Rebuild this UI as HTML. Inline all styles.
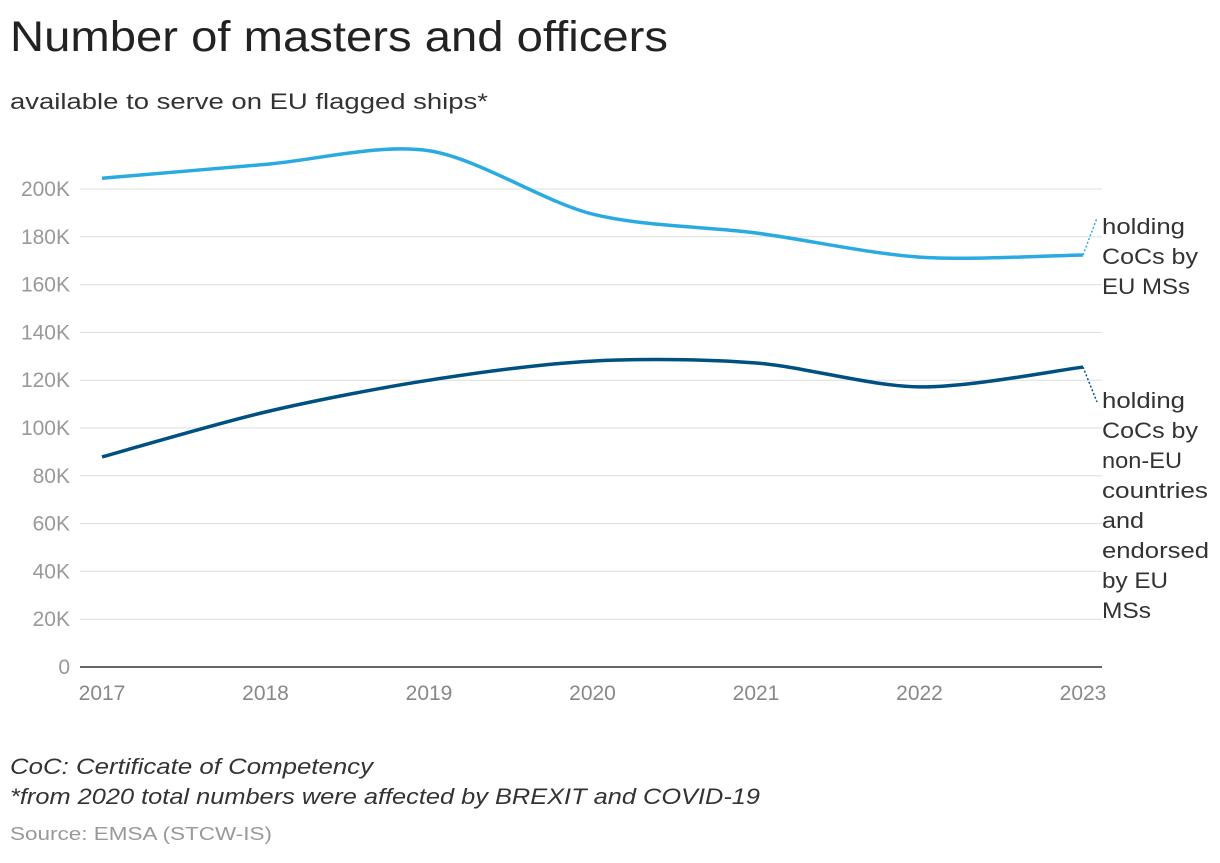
<!DOCTYPE html>
<html><head><meta charset="utf-8"><style>
body{margin:0;background:#fff;width:1220px;height:858px;overflow:hidden;font-family:"Liberation Sans",sans-serif}
</style></head><body>
<svg width="1220" height="858">
<text x="10" y="51" font-size="43" fill="#222" textLength="658" lengthAdjust="spacingAndGlyphs">Number of masters and officers</text>
<text x="10" y="109" font-size="22" fill="#333" textLength="478" lengthAdjust="spacingAndGlyphs">available to serve on EU flagged ships*</text>
<g id="grid"></g><g id="lines"></g>
<g font-size="22" fill="#333">
<text x="1102" y="234" textLength="83" lengthAdjust="spacingAndGlyphs">holding</text>
<text x="1102" y="264" textLength="96" lengthAdjust="spacingAndGlyphs">CoCs by</text>
<text x="1102" y="294" textLength="88" lengthAdjust="spacingAndGlyphs">EU MSs</text>
</g>
<g font-size="22" fill="#333">
<text x="1102" y="408" textLength="83" lengthAdjust="spacingAndGlyphs">holding</text>
<text x="1102" y="438" textLength="96" lengthAdjust="spacingAndGlyphs">CoCs by</text>
<text x="1102" y="468" textLength="80" lengthAdjust="spacingAndGlyphs">non-EU</text>
<text x="1102" y="498" textLength="106" lengthAdjust="spacingAndGlyphs">countries</text>
<text x="1102" y="528" textLength="42" lengthAdjust="spacingAndGlyphs">and</text>
<text x="1102" y="558" textLength="107" lengthAdjust="spacingAndGlyphs">endorsed</text>
<text x="1102" y="588" textLength="66" lengthAdjust="spacingAndGlyphs">by EU</text>
<text x="1102" y="618" textLength="49" lengthAdjust="spacingAndGlyphs">MSs</text>
</g>
<text x="10" y="774" font-size="22" font-style="italic" fill="#333" textLength="363" lengthAdjust="spacingAndGlyphs">CoC: Certificate of Competency</text>
<text x="10" y="804" font-size="22" font-style="italic" fill="#333" textLength="750" lengthAdjust="spacingAndGlyphs">*from 2020 total numbers were affected by BREXIT and COVID-19</text>
<text x="10" y="840" font-size="18" fill="#999" textLength="262" lengthAdjust="spacingAndGlyphs">Source: EMSA (STCW-IS)</text>
</svg>
<script>
const years=[2017,2018,2019,2020,2021,2022,2023];
const euValues=[204.5,210.3,216.0,189.5,181.6,171.5,172.4];
const nonEuValues=[87.9,106.7,120,128,127.2,117.2,125.5];
const yTicks=[0,20,40,60,80,100,120,140,160,180,200];
const NS="http://www.w3.org/2000/svg";
const xs=i=>102+i*(1083-102)/(years.length-1);
const ys=v=>667-v*(667-189)/200;
function mk(t,a,p){const e=document.createElementNS(NS,t);for(const k in a)e.setAttribute(k,a[k]);p.appendChild(e);return e;}
const g=document.getElementById('grid'),L=document.getElementById('lines');
yTicks.forEach(v=>{
 const l=mk('line',{x1:80,x2:1102,y1:ys(v),y2:ys(v),stroke:v===0?'#333':'#ddd','stroke-width':v===0?1.5:1},g);
 
 
 const t=mk('text',{x:70,y:ys(v)+7,'text-anchor':'end','font-size':21,fill:'#999'},g);
 t.textContent=v===0?'0':v+'K';
 
 
});
years.forEach((y,i)=>{
 const t=mk('text',{x:xs(i),y:700,'text-anchor':'middle','font-size':21,fill:'#888'},g);
 t.textContent=y;
 
 
});
function path(vals){
 const p=vals.map((v,i)=>[xs(i),ys(v)]);const n=p.length;
 let s='M'+p[0][0]+','+p[0][1];
 for(let i=0;i<n-1;i++){
  const p0=p[Math.max(i-1,0)],p1=p[i],p2=p[i+1],p3=p[Math.min(i+2,n-1)];
  const t=0.9/6;
  s+=`C${p1[0]+(p2[0]-p0[0])*t},${p1[1]+(p2[1]-p0[1])*t} ${p2[0]-(p3[0]-p1[0])*t},${p2[1]-(p3[1]-p1[1])*t} ${p2[0]},${p2[1]}`;
 }
 return s;
}
const a=mk('path',{d:path(euValues),fill:'none',stroke:'#29abe2','stroke-width':3.5},L);


const b=mk('path',{d:path(nonEuValues),fill:'none',stroke:'#005082','stroke-width':3.5},L);


const c1=mk('line',{x1:1083,y1:ys(euValues[6]),x2:1097,y2:218,stroke:'#29abe2','stroke-width':1.5,'stroke-dasharray':'2,2'},L);


const c2=mk('line',{x1:1083,y1:ys(nonEuValues[6]),x2:1097,y2:402,stroke:'#005082','stroke-width':1.5,'stroke-dasharray':'2,2'},L);


</script>
</body></html>
